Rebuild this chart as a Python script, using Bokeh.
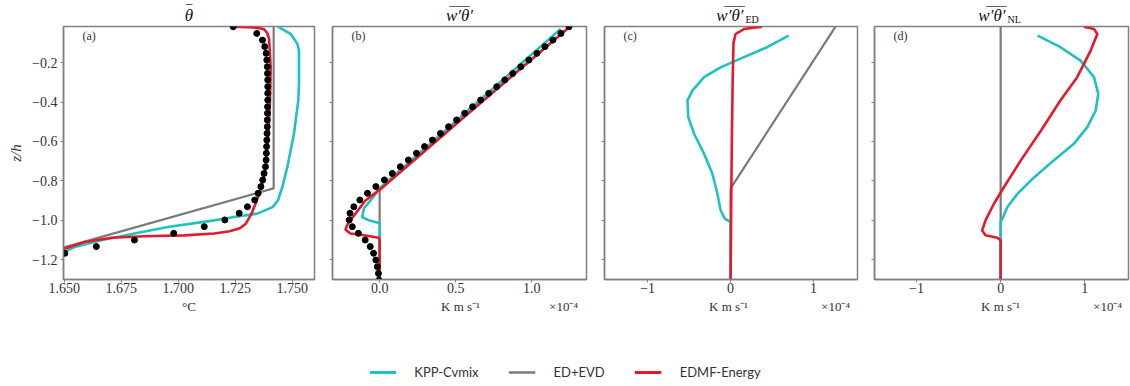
from bokeh.plotting import figure
from bokeh.layouts import row, column
from bokeh.models import (Label, Legend, LegendItem, FixedTicker, Range1d,
                          CustomJSTickFormatter)
from bokeh.embed import file_html
from bokeh.resources import INLINE

# ---------------- data ----------------
series_names = ["KPP-Cvmix", "ED+EVD", "EDMF-Energy"]

z_les = [-0.018, -0.052, -0.086, -0.119, -0.153, -0.187, -0.221, -0.255, -0.288, -0.322,
         -0.356, -0.390, -0.424, -0.457, -0.491, -0.525, -0.559, -0.593, -0.626, -0.660,
         -0.694, -0.728, -0.762, -0.795, -0.829, -0.863, -0.897, -0.931, -0.964, -0.998,
         -1.032, -1.066, -1.100, -1.133, -1.167, -1.201, -1.235, -1.269, -1.303]
les_theta = [1.7241, 1.7344, 1.7369, 1.7379, 1.7385, 1.7388, 1.7390, 1.7391, 1.7392, 1.7392,
             1.7392, 1.7392, 1.7391, 1.7391, 1.7390, 1.7390, 1.7389, 1.7388, 1.7387, 1.7386,
             1.7385, 1.7382, 1.7376, 1.7370, 1.7362, 1.7350, 1.7335, 1.7303, 1.7267, 1.7204,
             1.7114, 1.6980, 1.6808, 1.6641, 1.6503, 1.6400, 1.6300, 1.6200, 1.6100]
les_flux = [1.245, 1.192, 1.139, 1.087, 1.034, 0.981, 0.928, 0.875, 0.823, 0.770,
            0.717, 0.664, 0.611, 0.559, 0.506, 0.453, 0.400, 0.347, 0.295, 0.242,
            0.189, 0.136, 0.083, 0.031, -0.025, -0.080, -0.130, -0.170, -0.195, -0.200,
            -0.180, -0.140, -0.095, -0.062, -0.040, -0.025, -0.015, -0.008, -0.004]

# (a) mean temperature
kpp_theta_z = [-0.018, -0.055, -0.105, -0.139, -0.308, -0.392, -0.561, -0.730, -0.831, -0.899,
               -0.933, -0.966, -0.983, -1.000, -1.034, -1.067, -1.101, -1.135, -1.160, -1.300]
kpp_theta = [1.7436, 1.7493, 1.7522, 1.7529, 1.7529, 1.7526, 1.7507, 1.7478, 1.7456, 1.7437,
             1.7413, 1.7347, 1.7245, 1.7158, 1.6954, 1.6808, 1.6663, 1.6546, 1.6500, 1.6050]
ed_theta_z = [-0.018, -0.838, -1.137, -1.300]
ed_theta = [1.7418, 1.7418, 1.6500, 1.6000]
edmf_theta_z = [-0.018, -0.022, -0.030, -0.050, -0.080, -0.224, -0.392, -0.561, -0.730, -0.831,
                -0.899, -0.966, -1.017, -1.040, -1.055, -1.067, -1.076, -1.081, -1.088, -1.110,
                -1.143, -1.300]
edmf_theta = [1.7245, 1.7330, 1.7375, 1.7390, 1.7398, 1.7405, 1.7402, 1.7395, 1.7383, 1.7365,
              1.7344, 1.7321, 1.7296, 1.7270, 1.7225, 1.7158, 1.7027, 1.6852, 1.6707, 1.6590,
              1.6503, 1.6050]

# (b) total flux (x 1e-4)
kpp_flux_z = [-0.030, -0.430, -0.830, -0.899, -0.940, -0.983, -1.000, -1.014, -1.020, -1.300]
kpp_flux = [1.19, 0.60, 0.01, -0.06, -0.104, -0.115, -0.071, -0.005, 0.0, 0.0]
ed_flux_z = [-0.018, -0.838, -1.300]
ed_flux = [1.25, 0.0, 0.0]
edmf_flux_z = [-0.018, -0.430, -0.838, -0.899, -0.966, -1.017, -1.047, -1.067, -1.076, -1.088,
               -1.100, -1.300]
edmf_flux = [1.25, 0.625, 0.011, -0.093, -0.159, -0.21, -0.225, -0.192, -0.104, -0.005, 0.0, 0.0]

# (c) eddy-diffusive flux
kpp_ed_z = [-0.063, -0.122, -0.180, -0.224, -0.274, -0.342, -0.392, -0.476, -0.561, -0.662,
            -0.763, -0.864, -0.949, -0.992, -1.008, -1.300]
kpp_ed = [0.70, 0.44, 0.12, -0.12, -0.32, -0.46, -0.52, -0.51, -0.44, -0.32,
          -0.22, -0.16, -0.12, -0.07, 0.0, 0.0]
ed_ed_z = [-0.018, -0.838, -1.300]
ed_ed = [1.265, 0.0, 0.0]
edmf_ed_z = [-0.018, -0.030, -0.055, -0.100, -0.300, -0.600, -0.900, -1.300]
edmf_ed = [0.38, 0.16, 0.06, 0.035, 0.025, 0.015, 0.008, 0.0]

# (d) non-local flux
kpp_nl_z = [-0.063, -0.122, -0.190, -0.274, -0.359, -0.443, -0.527, -0.612, -0.696, -0.781,
            -0.865, -0.932, -0.983, -1.008, -1.300]
kpp_nl = [0.44, 0.71, 0.95, 1.11, 1.16, 1.13, 1.03, 0.87, 0.63, 0.40, 0.20, 0.08, 0.03, 0.0, 0.0]
ed_nl_z = [-0.018, -1.300]
ed_nl = [0.0, 0.0]
edmf_nl_z = [-0.018, -0.030, -0.055, -0.139, -0.274, -0.392, -0.544, -0.696, -0.831, -0.916,
             -1.000, -1.051, -1.076, -1.088, -1.101, -1.300]
edmf_nl = [0.99, 1.11, 1.15, 1.07, 0.91, 0.71, 0.48, 0.24, 0.04, -0.08,
           -0.18, -0.22, -0.18, -0.04, 0.0, 0.0]

y_ticks = [-1.2, -1.0, -0.8, -0.6, -0.4, -0.2]
xa_ticks = [1.650, 1.675, 1.700, 1.725, 1.750]
xb_ticks = [0.0, 0.5, 1.0]
xcd_ticks = [-1, 0, 1]

title_main = ["\u03b8", "w\u2032\u03b8\u2032", "w\u2032\u03b8\u2032", "w\u2032\u03b8\u2032"]
title_bar = ["\u203e", "\u203e\u203e\u203e\u203e", "\u203e\u203e\u203e\u203e", "\u203e\u203e\u203e\u203e"]
title_sub = ["", "", "ED", "NL"]
panel_letters = ["(a)", "(b)", "(c)", "(d)"]
unit_labels = ["\u00b0C", "K m s\u207b\u00b9", "K m s\u207b\u00b9", "K m s\u207b\u00b9"]
scale_label = "\u00d710\u207b\u2074"

# ---------------- style ----------------
C_KPP = "#1ec3c0"
C_ED = "#7a7a7a"
C_EDMF = "#e41a2c"
FRAME = "#808080"
SERIF = "Liberation Serif"
TXT = "#333333"
FH = 253  # frame height


def fmt(nd):
    return CustomJSTickFormatter(code="return tick.toFixed(%d).replace('-', '\\u2212');" % nd)


def make_fig(width, left, right, xr, xticks, nd, show_ylabels):
    p = figure(width=width, height=273, x_range=Range1d(*xr), y_range=Range1d(-1.30, -0.017),
               output_backend="svg", toolbar_location=None,
               min_border_left=left, min_border_right=right,
               min_border_top=2, min_border_bottom=18)
    p.grid.visible = False
    p.outline_line_color = FRAME
    p.outline_line_width = 1.5
    p.background_fill_color = "white"
    p.border_fill_color = "white"
    for ax in (p.xaxis[0], p.yaxis[0]):
        ax.axis_line_color = FRAME
        ax.axis_line_width = 1.5
        ax.major_tick_line_color = FRAME
        ax.major_tick_in = 0
        ax.major_tick_out = 3
        ax.minor_tick_line_color = None
        ax.major_label_text_font = SERIF
        ax.major_label_text_font_size = "14px"
        ax.major_label_text_color = TXT
    p.xaxis.ticker = FixedTicker(ticks=xticks)
    p.xaxis.formatter = fmt(nd)
    p.xaxis.major_label_standoff = 0
    p.yaxis.ticker = FixedTicker(ticks=y_ticks)
    if show_ylabels:
        p.yaxis.formatter = fmt(1)
        p.yaxis.major_label_standoff = 3
        p.yaxis.axis_label = "z/h"
        p.yaxis.axis_label_text_font = SERIF
        p.yaxis.axis_label_text_font_style = "italic"
        p.yaxis.axis_label_text_font_size = "15px"
        p.yaxis.axis_label_text_color = TXT
        p.yaxis.axis_label_standoff = 5
    else:
        p.yaxis.formatter = CustomJSTickFormatter(code="return '';")
        p.yaxis.major_label_standoff = 0
    return p


def strip(h):
    s = figure(width=1130, height=h, x_range=Range1d(0, 1130), y_range=Range1d(0, h),
               output_backend="svg", toolbar_location=None, x_axis_type=None, y_axis_type=None,
               min_border_left=0, min_border_right=0, min_border_top=0, min_border_bottom=0)
    s.outline_line_color = None
    s.grid.visible = False
    s.background_fill_color = "white"
    s.border_fill_color = "white"
    return s


def add_label(p, x, y, text, size="12px", align="center", style="normal", units="screen",
              color=TXT):
    p.add_layout(Label(x=x, y=y, x_units=units, y_units=units, text=text,
                       text_font=SERIF, text_font_size=size, text_align=align,
                       text_baseline="middle", text_font_style=style, text_color=color))


def draw(p, kz, kx, ez, ex, mz, mx, les=None):
    p.line(ex, ez, color=C_ED, line_width=2.2)
    p.line(kx, kz, color=C_KPP, line_width=2.6)
    p.line(mx, mz, color=C_EDMF, line_width=2.6)
    if les is not None:
        p.scatter(les, z_les, size=6, color="black", marker="circle")


fa = make_fig(323, 63, 9, (1.6497, 1.7597), xa_ticks, 3, True)
fb = make_fig(272, 9, 9, (-0.31, 1.36), xb_ticks, 1, False)
fc = make_fig(270, 9, 8, (-1.52, 1.53), xcd_ticks, 0, False)
fd = make_fig(265, 9, 2, (-1.50, 1.52), xcd_ticks, 0, False)

draw(fa, kpp_theta_z, kpp_theta, ed_theta_z, ed_theta, edmf_theta_z, edmf_theta, les_theta)
draw(fb, kpp_flux_z, kpp_flux, ed_flux_z, ed_flux, edmf_flux_z, edmf_flux, les_flux)
draw(fc, kpp_ed_z, kpp_ed, ed_ed_z, ed_ed, edmf_ed_z, edmf_ed)
draw(fd, kpp_nl_z, kpp_nl, ed_nl_z, ed_nl, edmf_nl_z, edmf_nl)

for p, t in zip((fa, fb, fc, fd), panel_letters):
    add_label(p, 19, FH - 9, t, size="12px", align="left")

# ---- title strip (24 px tall, data units = pixels) ----
TH = 24
ts = strip(TH)
TC = "#111111"
for i, (tx, al) in enumerate(((188.5, "center"), (459, "center"), (743, "right"), (1005, "right"))):
    add_label(ts, tx, TH - 15, title_main[i], size="17px", style="italic", align=al,
              units="data", color=TC)
    bar_size = "17px" if i == 0 else "15px"
    add_label(ts, tx + (1 if al == "right" else 0), TH - 12, title_bar[i], size=bar_size,
              align=al, units="data", color=TC)
    if title_sub[i]:
        add_label(ts, tx + 2, TH - 18.5, title_sub[i], size="10px", align="left",
                  units="data", color=TC)

# ---- units strip ----
UH = 63
us = strip(UH)
for cx, t in zip((188.5, 460, 728, 1000), unit_labels):
    add_label(us, cx, UH - 8.5, t, size="13px", units="data")
for cx in (563, 835, 1107):
    add_label(us, cx, UH - 8.5, scale_label, size="13px", units="data")

# ---- legend strip ----
ls = strip(24)
ls.x_range = Range1d(0, 1)
ls.y_range = Range1d(0, 1)
r1 = ls.line([-5, -4], [-5, -4], color=C_KPP, line_width=2.8)
r2 = ls.line([-5, -4], [-5, -4], color=C_ED, line_width=2.4)
r3 = ls.line([-5, -4], [-5, -4], color=C_EDMF, line_width=2.8)
leg = Legend(items=[LegendItem(label=series_names[0], renderers=[r1]),
                    LegendItem(label=series_names[1], renderers=[r2]),
                    LegendItem(label=series_names[2], renderers=[r3])],
             orientation="horizontal", location="center", glyph_width=27, glyph_height=16,
             label_standoff=18, spacing=30, padding=0, margin=0,
             border_line_alpha=0, background_fill_alpha=0,
             label_text_font="Lato", label_text_font_size="13px", label_text_color="#333333")
ls.add_layout(leg)

layout = column(ts, row(fa, fb, fc, fd), us, ls)
open("out.html", "w").write(file_html(layout, INLINE))
